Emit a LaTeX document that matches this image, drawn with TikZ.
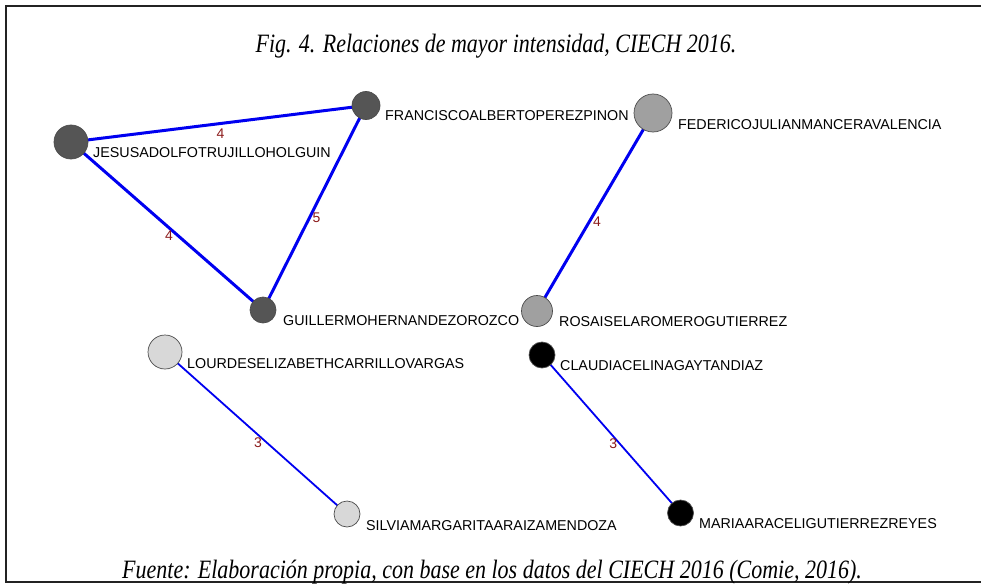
\documentclass[tikz,border=0pt]{standalone}
\usepackage{fontspec}
\setmainfont{Liberation Serif}
\newfontfamily\labfont{Liberation Sans}
\newfontfamily\capfont[FakeStretch=0.83]{Liberation Serif}
\usetikzlibrary{backgrounds}
\definecolor{darknode}{RGB}{85,85,85}
\definecolor{midnode}{RGB}{160,160,160}
\definecolor{lightnode}{RGB}{216,216,216}
\definecolor{edgeblue}{RGB}{0,0,240}
\definecolor{wred}{RGB}{139,26,26}
\definecolor{framecol}{RGB}{35,35,35}
\tikzset{
  actor/.style={circle, draw=black!70, line width=0.7pt, inner sep=0pt},
  nlabel/.style={anchor=base west, inner sep=0pt, font=\labfont\fontsize{14.3}{16}\selectfont},
  strongedge/.style={draw=edgeblue, line width=3pt},
  weakedge/.style={draw=edgeblue, line width=1.8pt},
  weight/.style={midway, xshift=2pt, yshift=-10pt, inner sep=0pt, text=wred, font=\labfont\fontsize{14}{16}\selectfont},
  caption/.style={anchor=base, inner sep=0pt, font=\capfont\itshape\fontsize{26.5}{30}\selectfont}
}
\begin{document}
\begin{tikzpicture}[x=1pt, y=-1pt]
\useasboundingbox (0,0) rectangle (981,583);
% frame
\coordinate (ftr) at (981,6);
\coordinate (ftl) at (6,6);
\coordinate (fbl) at (6,581.5);
\coordinate (fbr) at (981,581.5);
\draw[framecol, line width=2pt] (ftr) -- (ftl) -- (fbl) -- (fbr);
% captions
\node[caption] (title) at (496,53) {Fig. 4. Relaciones de mayor intensidad, CIECH 2016.};
\node[caption] (source) at (492,578) {Fuente: Elaboración propia, con base en los datos del CIECH 2016 (Comie, 2016).};
% actors
\node[actor, fill=darknode, minimum size=34pt] (jesus) at (71,142) {};
\node[actor, fill=darknode, minimum size=28pt] (francisco) at (366,105.5) {};
\node[actor, fill=darknode, minimum size=26pt] (guillermo) at (263,310) {};
\node[actor, fill=midnode, minimum size=38pt] (federico) at (653,113) {};
\node[actor, fill=midnode, minimum size=31pt] (rosa) at (537,311) {};
\node[actor, fill=lightnode, minimum size=34pt] (lourdes) at (165,352) {};
\node[actor, fill=lightnode, minimum size=26pt] (silvia) at (347,514) {};
\node[actor, fill=black, minimum size=26pt] (claudia) at (542,355) {};
\node[actor, fill=black, minimum size=26pt] (maria) at (680.5,513) {};
% names
\node[nlabel] (ljesus) at (93,157.5) {JESUSADOLFOTRUJILLOHOLGUIN};
\node[nlabel] (lfrancisco) at (385,120.5) {FRANCISCOALBERTOPEREZPINON};
\node[nlabel] (lguillermo) at (283,325.5) {GUILLERMOHERNANDEZOROZCO};
\node[nlabel] (lfederico) at (678,129) {FEDERICOJULIANMANCERAVALENCIA};
\node[nlabel] (lrosa) at (559,326.5) {ROSAISELAROMEROGUTIERREZ};
\node[nlabel] (llourdes) at (187,368) {LOURDESELIZABETHCARRILLOVARGAS};
\node[nlabel] (lsilvia) at (366,530) {SILVIAMARGARITAARAIZAMENDOZA};
\node[nlabel] (lclaudia) at (560,370) {CLAUDIACELINAGAYTANDIAZ};
\node[nlabel] (lmaria) at (699,528.5) {MARIAARACELIGUTIERREZREYES};
% ties
\begin{scope}[on background layer]
\draw[strongedge] (jesus.center) -- (francisco.center) node[weight] (w1) {4};
\draw[strongedge] (jesus.center) -- (guillermo.center) node[weight] (w2) {4};
\draw[strongedge] (francisco.center) -- (guillermo.center) node[weight] (w3) {5};
\draw[strongedge] (federico.center) -- (rosa.center) node[weight] (w4) {4};
\draw[weakedge] (lourdes.center) -- (silvia.center) node[weight] (w5) {3};
\draw[weakedge] (claudia.center) -- (maria.center) node[weight] (w6) {3};
\end{scope}
\end{tikzpicture}
\end{document}
